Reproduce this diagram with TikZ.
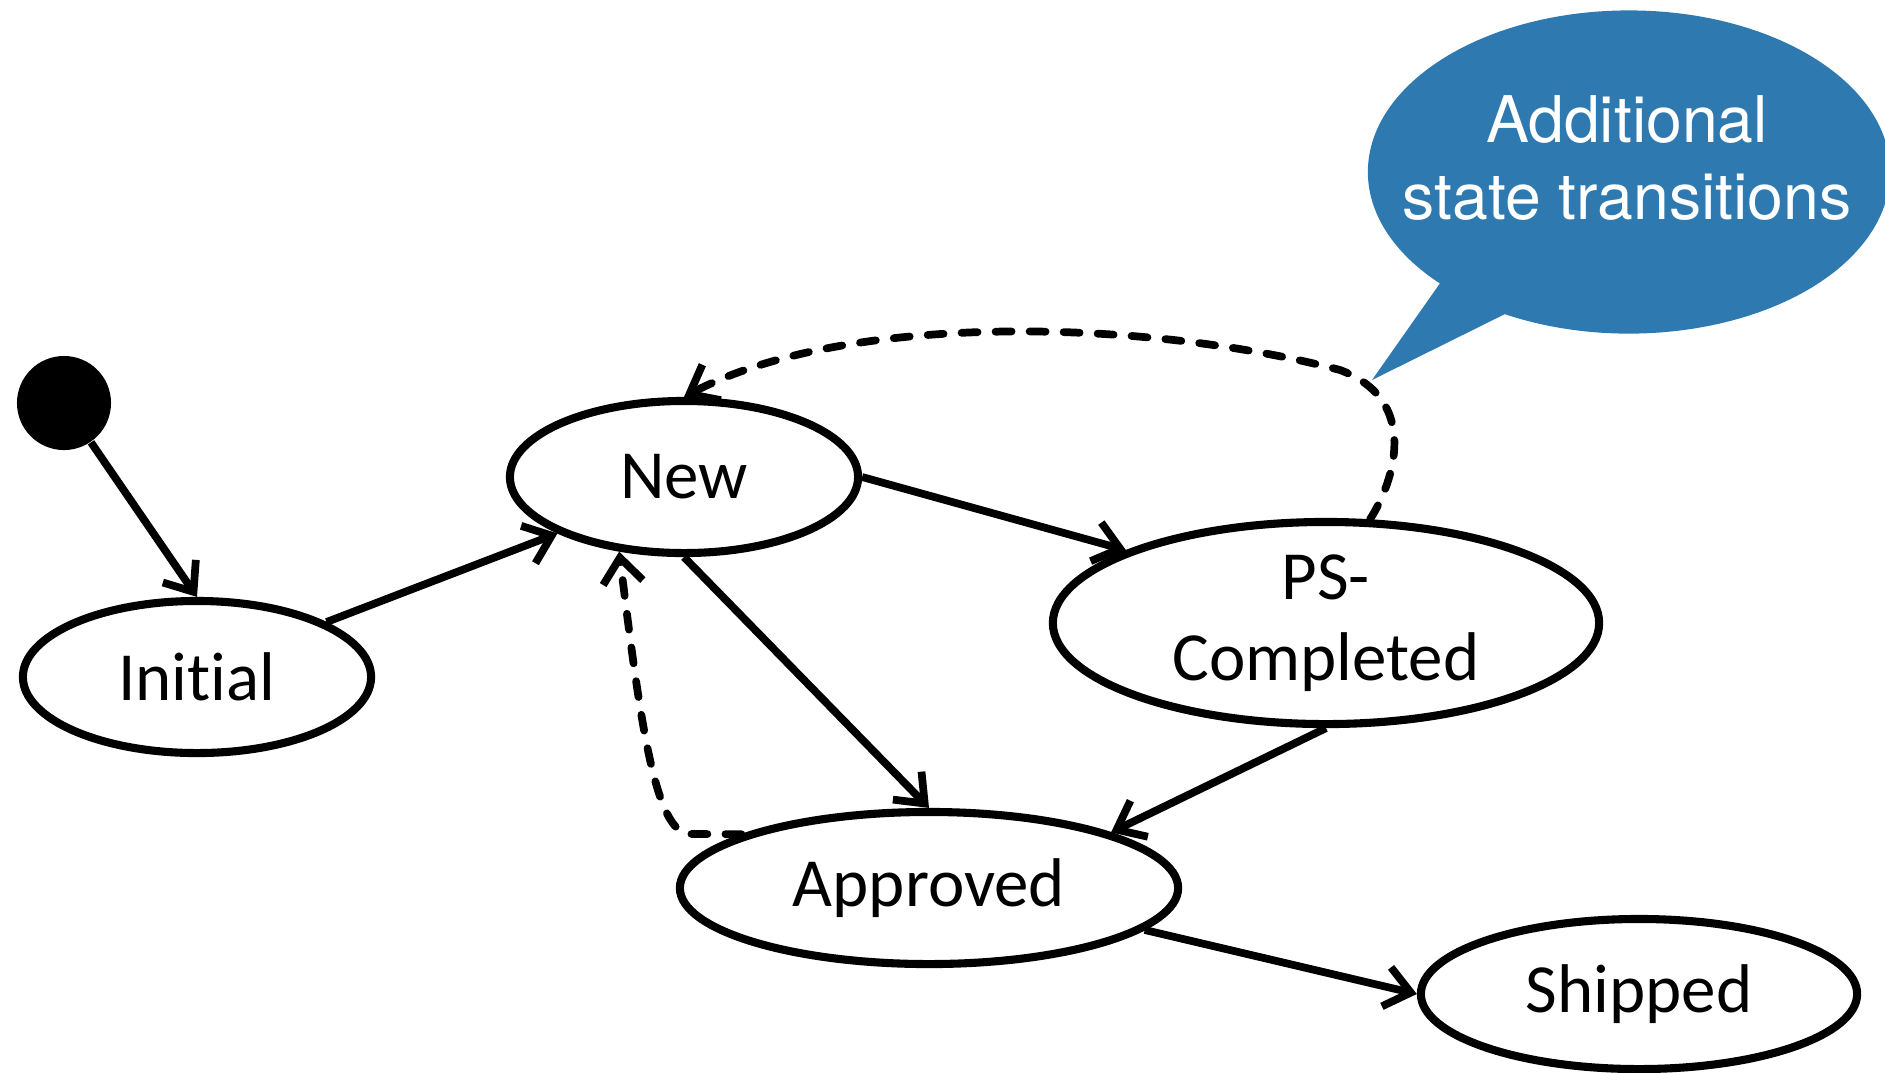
\documentclass[tikz,border=0pt]{standalone}
\usepackage{fontspec}
\setmainfont{Carlito}[Ligatures={NoCommon}]
\newfontfamily\bubblefont{TeX Gyre Heros}
\usepackage{tikz}
\usetikzlibrary{shapes, arrows.meta, positioning, calc}

\definecolor{bubbleblue}{RGB}{46,122,176}

\tikzset{
  stnode/.style = {draw, ellipse, line width=2.3pt, inner sep=0pt, align=center,
                   font=\fontsize{19.6}{23}\selectfont},
  startdot/.style = {circle, fill=black, minimum size=0.94cm, inner sep=0pt},
  trans/.style = {-{Straight Barb[length=2.5mm,width=4mm]}, line width=2.2pt},
  extratrans/.style = {trans, line cap=round, dash pattern=on 0.16cm off 0.18cm},
  bubble/.style = {ellipse callout, fill=bubbleblue, inner sep=0pt,
                   minimum width=5.22cm, minimum height=3.23cm, callout pointer arc=18}
}

\begin{document}
\begin{tikzpicture}[x=0.01cm, y=-0.01cm]
  \useasboundingbox (0,0) rectangle (1885,1072);

  % callout
  \node[bubble, callout absolute pointer={(1372,380)},
        label={[text=white, align=center, font=\bubblefont\fontsize{18.3}{21.8}\selectfont,
                xshift=-0.02cm, yshift=0.14cm]center:{Additional\\state transitions}}]
        (note) at (1629,172) {};

  % states
  \node[startdot] (dot) at (64,403) {};
  \node[stnode, minimum width=3.48cm, minimum height=1.52cm] (init) at (197,677) {Initial};
  \node[stnode, minimum width=3.48cm, minimum height=1.52cm] (new) at (684,477) {New};
  \node[stnode, minimum width=5.46cm, minimum height=2.02cm] (ps) at (1326,623) {PS-\\Completed};
  \node[stnode, minimum width=4.98cm, minimum height=1.52cm] (appr) at (929,888) {Approved};
  \node[stnode, minimum width=4.36cm, minimum height=1.50cm] (ship) at (1639,994) {Shipped};

  % transitions
  \draw[trans] (dot) -- (init.north);
  \draw[trans] (init.23) -- (new.204);
  \draw[trans] (new.east) -- (ps.160);
  \draw[trans] (new.south) -- (appr.north);
  \draw[trans] (ps.south) -- (appr.17);
  \draw[trans] (appr.349) -- (ship.west);

  % additional ones
  \draw[extratrans] (ps.67) .. controls (1395,480) and (1420,400) .. (1340,370)
        .. controls (1150,320) and (850,310) .. (new.north);
  \draw[extratrans] (appr.164) -- (690,834) .. controls (655,834) and (640,720) .. (new.229);
\end{tikzpicture}
\end{document}
